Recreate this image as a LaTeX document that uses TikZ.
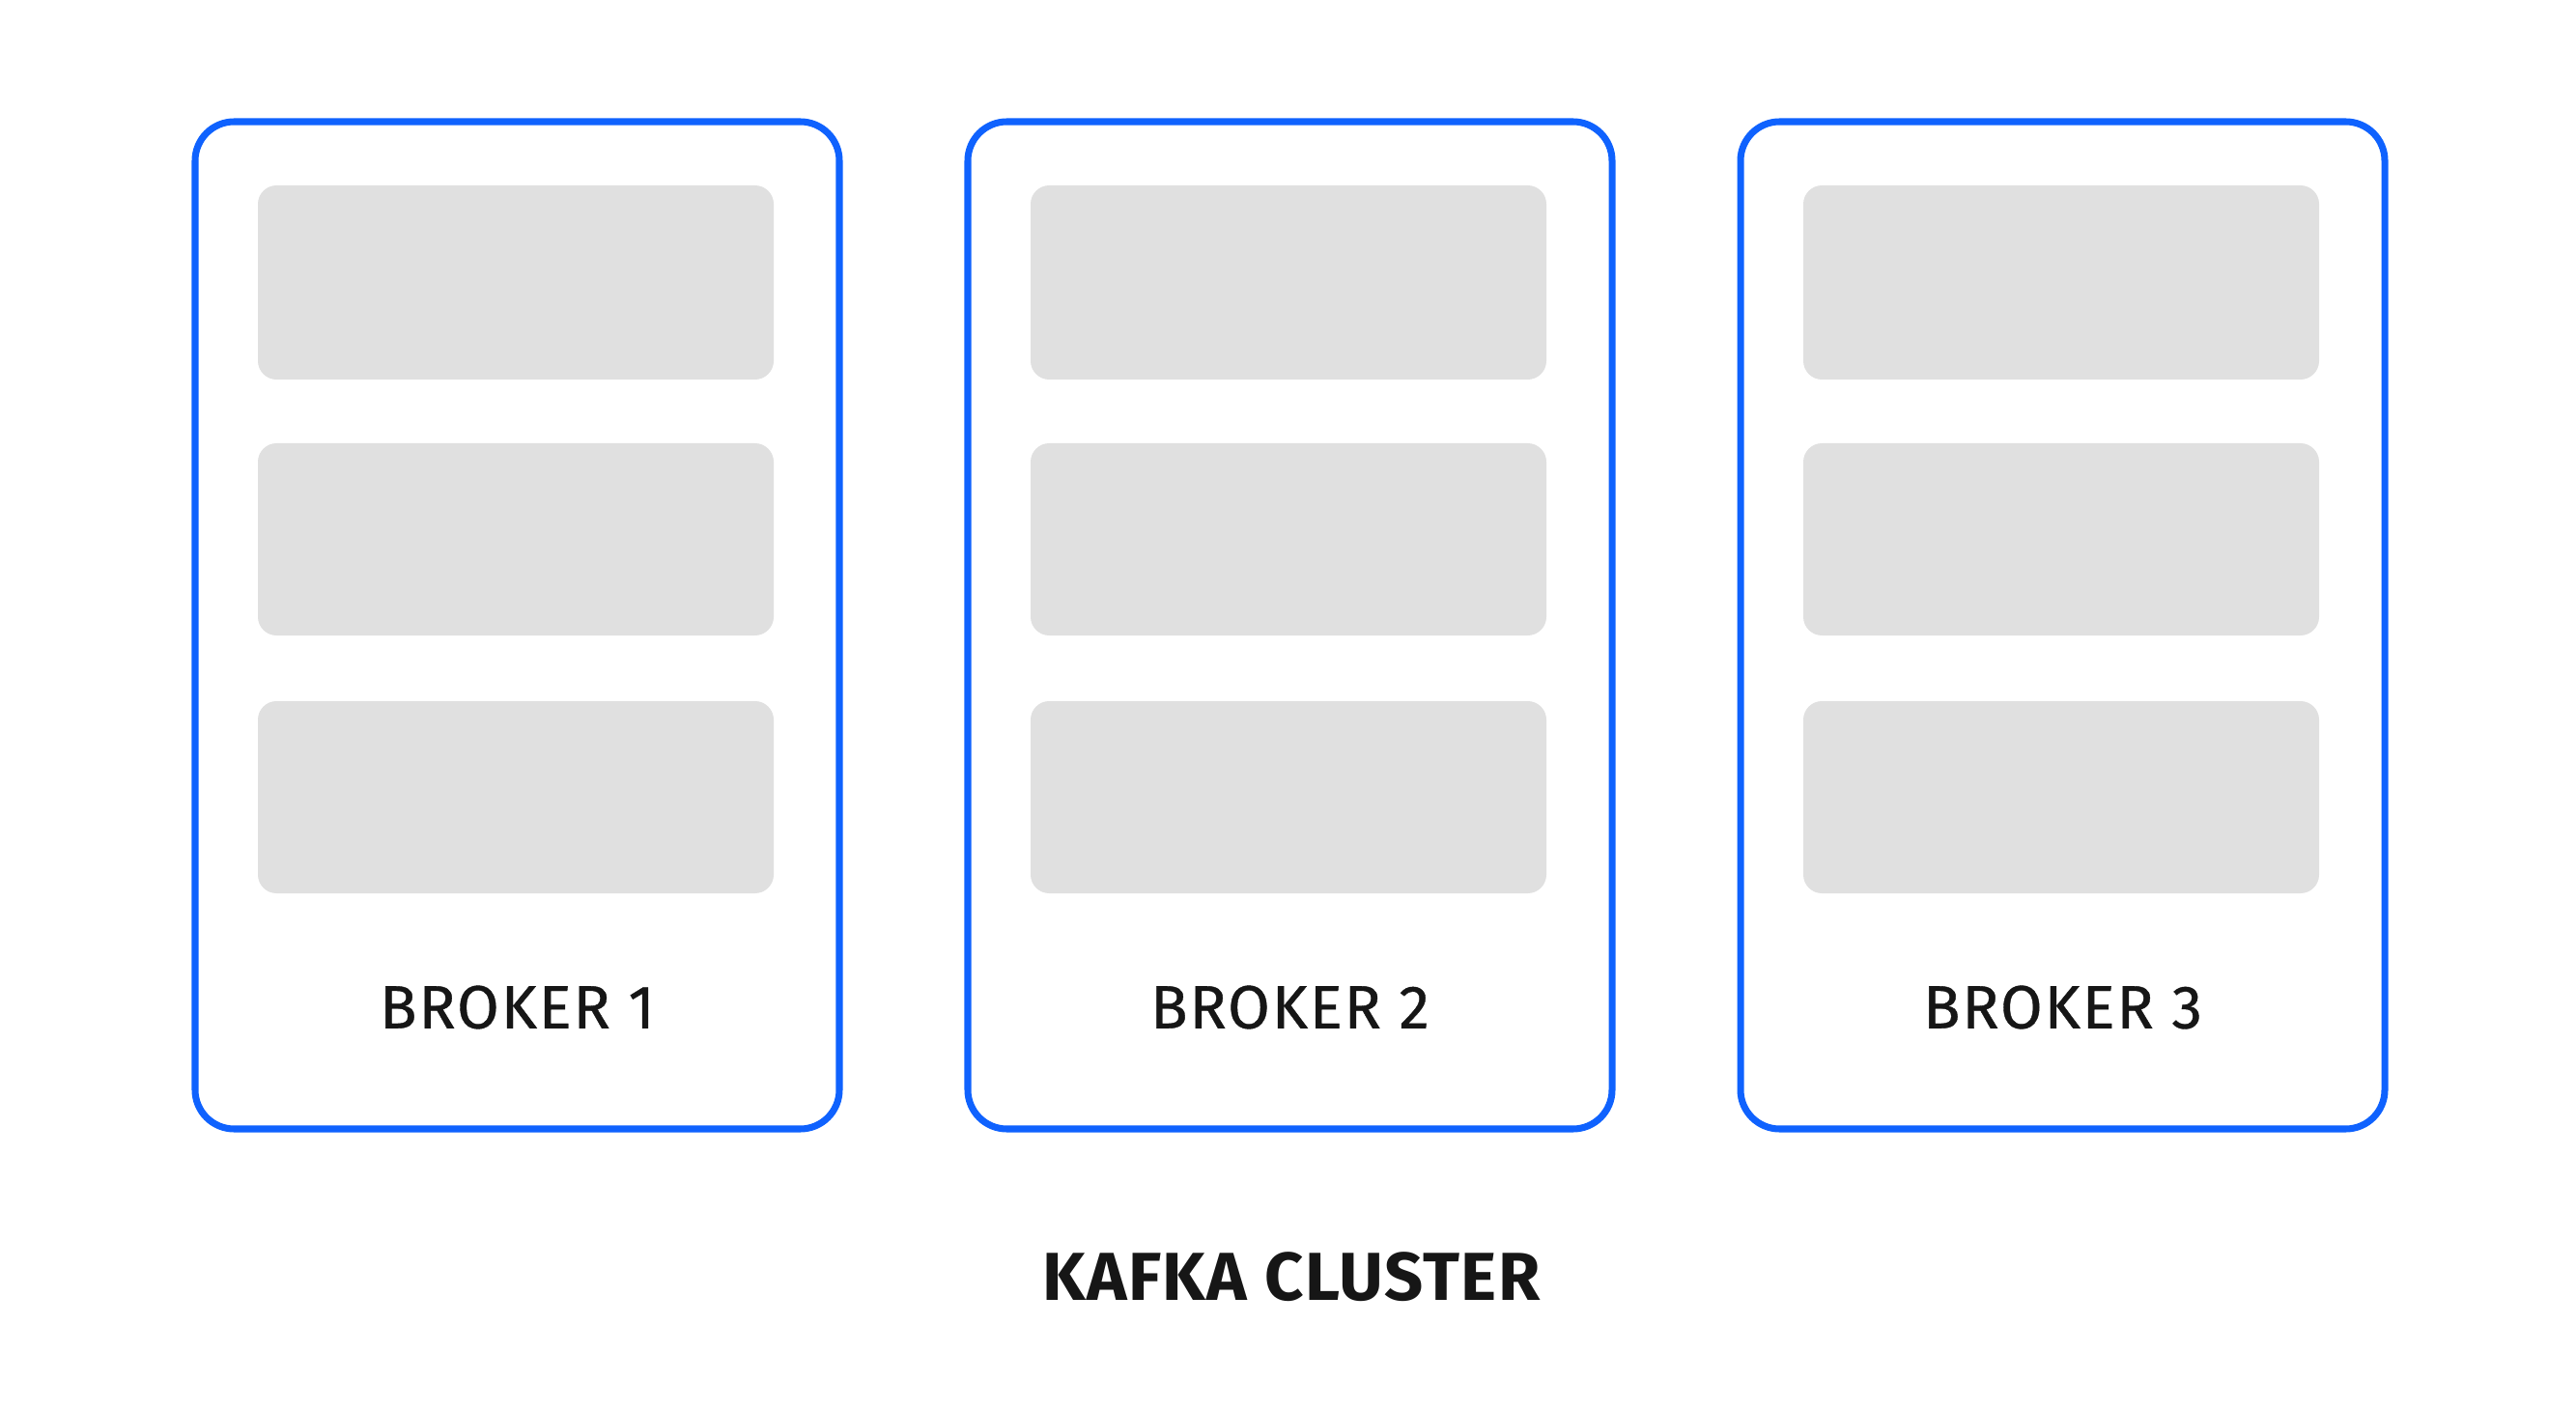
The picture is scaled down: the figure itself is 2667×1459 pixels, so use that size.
\documentclass[tikz,border=0pt]{standalone}
\usepackage{fontspec}
\setmainfont{Fira Sans}
\newfontfamily\labelfont[LetterSpace=3, FakeBold=0.6]{Fira Sans}
\newfontfamily\titlefont[LetterSpace=2]{Fira Sans}
\definecolor{ibmblue}{HTML}{0F62FE}
\definecolor{slotgray}{HTML}{E0E0E0}
\definecolor{inkdark}{HTML}{161616}
\tikzset{
  brokerbox/.style={draw=ibmblue, line width=4pt, rounded corners=23pt, fill=white},
  slotbox/.style={fill=slotgray, draw=none, rounded corners=11pt},
  brokerlabel/.style={text=inkdark, font=\labelfont\fontsize{36}{40}\selectfont, anchor=center},
  clusterlabel/.style={text=inkdark, font=\titlefont\bfseries\fontsize{40}{44}\selectfont, anchor=center}
}
\begin{document}
\begin{tikzpicture}[x=0.02cm, y=-0.02cm]
\useasboundingbox (0,0) rectangle (2667,1459);
\foreach \i/\x in {1/202, 2/1002, 3/1802} {
  \draw[brokerbox] (\x,126) rectangle ++(667,1043);
  \fill[slotbox] (\x+65,192) rectangle ++(534,201);
  \fill[slotbox] (\x+65,459) rectangle ++(534,199);
  \fill[slotbox] (\x+65,726) rectangle ++(534,199);
  \node[brokerlabel] (b\i) at (\x+333.5,1043) {BROKER \i};
}
\node[clusterlabel] (cluster) at (1337,1322) {KAFKA CLUSTER};
\end{tikzpicture}
\end{document}
